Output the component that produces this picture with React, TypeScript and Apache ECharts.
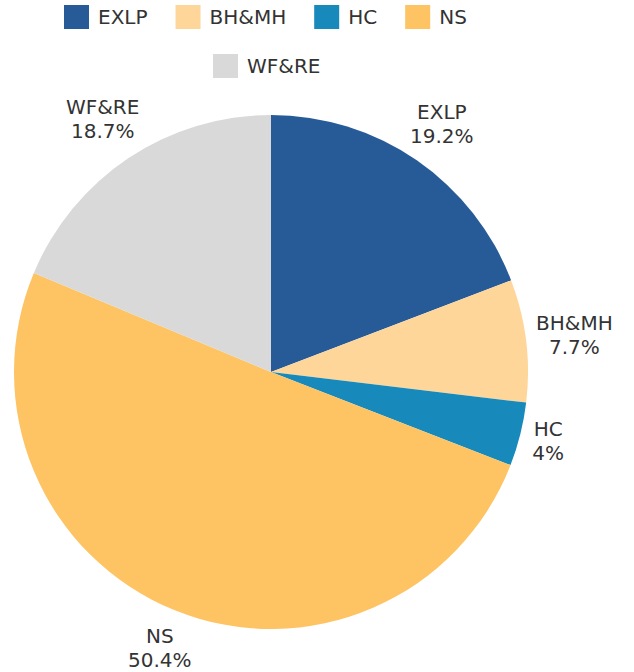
import React, { useEffect, useRef } from "react";
import * as echarts from "echarts";

const categories = ["EXLP", "BH&MH", "HC", "NS", "WF&RE"];
const values = [19.2, 7.7, 4, 50.4, 18.7];
const colors = ["#275B98", "#FED699", "#1789BA", "#FEC362", "#D9D9D9"];
const legendRow1 = ["EXLP", "BH&MH", "HC", "NS"];
const legendRow2 = ["WF&RE"];

const CX = 271;
const CY = 372;
const RADIUS = 257;
const GAP = 8;
const FONT = "DejaVu Sans";

export default function App() {
  const ref = useRef<HTMLDivElement>(null);
  useEffect(() => {
    document.body.style.margin = "0";
    if (!ref.current) return;
    const chart = echarts.init(ref.current, undefined, { renderer: "svg" });
    const total = values.reduce((a, b) => a + b, 0);
    const legendBase = {
      orient: "horizontal",
      icon: "rect",
      padding: 0,
      itemWidth: 25,
      itemHeight: 24,
      itemGap: 28,
      selectedMode: false,
      textStyle: {
        fontFamily: FONT,
        fontSize: 20,
        color: "#333",
        padding: [0, 0, 0, 4],
      },
    };
    chart.setOption({
      animation: false,
      color: colors,
      legend: [
        { ...legendBase, left: 64, top: 5, data: legendRow1 },
        { ...legendBase, left: 213, top: 54, data: legendRow2 },
      ],
      series: [
        {
          type: "pie",
          center: [CX, CY],
          radius: RADIUS,
          startAngle: 90,
          clockwise: true,
          silent: true,
          emphasis: { disabled: true },
          labelLine: { show: false },
          label: {
            show: true,
            position: "outside",
            alignTo: "none",
            overflow: "none",
            formatter: "{b}\n{c}%",
            fontFamily: FONT,
            fontSize: 20,
            lineHeight: 24,
            color: "#333",
            align: "center",
          },
          labelLayout: (params: any) => {
            const i = params.dataIndex;
            let before = 0;
            for (let j = 0; j < i; j++) before += values[j];
            const mid = ((before + values[i] / 2) / total) * Math.PI * 2;
            const ux = Math.sin(mid);
            const uy = -Math.cos(mid);
            const w = params.labelRect.width;
            const h = params.labelRect.height - 4;
            const R = RADIUS + GAP + (w / 2) * Math.abs(ux) + (h / 2) * Math.abs(uy);
            return {
              x: CX + ux * R,
              y: CY + uy * R,
              align: "center",
              verticalAlign: "middle",
            };
          },
          data: categories.map((name, i) => ({ name, value: values[i] })),
        },
      ],
    });
    return () => chart.dispose();
  }, []);
  return <div ref={ref} style={{ width: 634, height: 672 }} />;
}
